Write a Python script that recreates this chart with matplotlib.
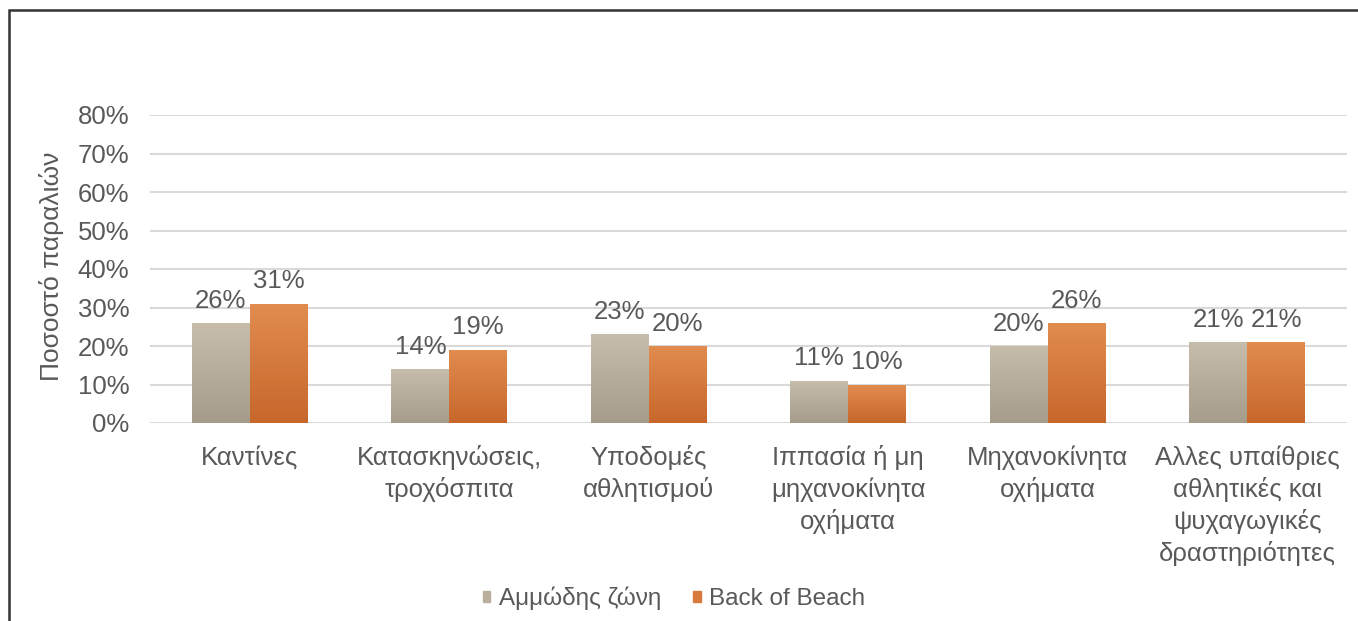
import numpy as np
import matplotlib.pyplot as plt
from matplotlib.colors import LinearSegmentedColormap
from matplotlib.patches import Rectangle

plt.rcParams['font.family'] = ['Liberation Sans', 'DejaVu Sans']

categories = ['Καντίνες', 'Κατασκηνώσεις,\nτροχόσπιτα', 'Υποδομές\nαθλητισμού',
              'Ιππασία ή μη\nμηχανοκίνητα\nοχήματα', 'Μηχανοκίνητα\nοχήματα',
              'Αλλες υπαίθριες\nαθλητικές και\nψυχαγωγικές\nδραστηριότητες']
sandy = [0.26, 0.14, 0.23, 0.11, 0.20, 0.21]
back = [0.31, 0.19, 0.20, 0.10, 0.26, 0.21]
series_names = ['Αμμώδης ζώνη', 'Back of Beach']

txt = '#595959'
fig = plt.figure(figsize=(13.58, 6.21), dpi=100)
ax = fig.add_axes([150 / 1358, 1 - 423 / 621, 1197 / 1358, 308 / 621])

x = np.arange(len(categories))
w = 0.29
b1 = ax.bar(x - w / 2, sandy, w, color='#B8AF9D', label=series_names[0], zorder=2)
b2 = ax.bar(x + w / 2, back, w, color='#D77A3C', label=series_names[1], zorder=2)

# vertical gradient fill on the bars
grads = [LinearSegmentedColormap.from_list('g1', ['#A59C8A', '#C6BDAB']),
         LinearSegmentedColormap.from_list('g2', ['#C7672C', '#E28C4F'])]
grad = np.linspace(0, 1, 100).reshape(-1, 1)
for bars, cm in zip([b1, b2], grads):
    for bar in bars:
        bx, by = bar.get_x(), bar.get_y()
        im = ax.imshow(grad, cmap=cm, origin='lower', aspect='auto',
                       extent=[bx, bx + bar.get_width(), by, by + bar.get_height()], zorder=2.5)
        im.set_clip_path(bar)

for bars, vals in [(b1, sandy), (b2, back)]:
    for bar, v in zip(bars, vals):
        ax.text(bar.get_x() + bar.get_width() / 2, v + 0.027, f'{round(v * 100):d}%',
                ha='center', va='bottom', fontsize=18.5, color=txt)

ax.set_xlim(-0.5, len(categories) - 0.5)
ax.set_ylim(0, 0.8)
ax.set_yticks(np.arange(0, 0.81, 0.1))
ax.set_yticklabels([f'{int(round(t * 100))}%' for t in np.arange(0, 0.81, 0.1)])
ax.set_xticks(x)
ax.set_xticklabels(categories, linespacing=1.36)
ax.tick_params(axis='both', length=0, labelsize=18.5, labelcolor=txt)
ax.tick_params(axis='x', pad=16)
ax.tick_params(axis='y', pad=15)
for s in ax.spines.values():
    s.set_visible(False)
ax.grid(axis='y', color='#D9D9D9', linewidth=1.5, zorder=0)
ax.set_axisbelow(True)
ax.set_ylabel('Ποσοστό παραλιών', fontsize=19, color=txt)
ax.yaxis.set_label_coords(-86 / 1197, 0.51)

h1 = Rectangle((0, 0), 1, 1, color='#B8AF9D')
h2 = Rectangle((0, 0), 1, 1, color='#D77A3C')
fig.legend([h1, h2], series_names, loc='center', bbox_to_anchor=(674 / 1358, 1 - 598 / 621),
           ncol=2, frameon=False, fontsize=17.5, labelcolor=txt, handlelength=0.32,
           handleheight=0.32, handletextpad=0.35, columnspacing=1.3)

# outer frame of the original figure
fig.add_artist(Rectangle((9 / 1358, -0.1), 1.2, 1 - 10 / 621 + 0.1, transform=fig.transFigure,
                         fill=False, edgecolor='#333333', linewidth=1.8))

fig.savefig('out.png', dpi=100)
